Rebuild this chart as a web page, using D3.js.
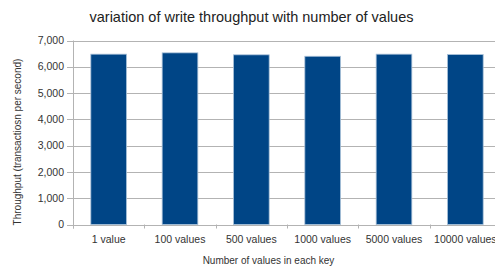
<!DOCTYPE html>
<html><head><meta charset="utf-8">
<script src="https://cdn.jsdelivr.net/npm/d3@7"></script>
<style>body{margin:0;background:#fff}svg{display:block;font-family:"Liberation Sans",Arial,sans-serif}</style>
</head><body><svg id="c" width="495" height="270"></svg>
<script>
const categories = ["1 value","100 values","500 values","1000 values","5000 values","10000 values"];
const values = [6480, 6530, 6455, 6400, 6480, 6465];
const yTicks = [0,1000,2000,3000,4000,5000,6000,7000];

const svg = d3.select("#c");
const m = {left:73, right:501, top:40.5, bottom:224.5};
const x = d3.scaleBand().domain(categories).range([m.left, m.right]).paddingInner(0.5).paddingOuter(0.25);
const xOuter = d3.scaleBand().domain(categories).range([m.left, m.right]);
const y = d3.scaleLinear().domain([0,7000]).range([m.bottom, m.top]);
const fmt = d3.format(",");

// gridlines
svg.append("g").selectAll("line").data(yTicks).join("line")
  .attr("x1", m.left-6).attr("x2", 495)
  .attr("y1", d=>Math.round(y(d))+0.5).attr("y2", d=>Math.round(y(d))+0.5)
  .attr("stroke","#b3b3b3").attr("stroke-width",1);
// y axis line
svg.append("line").attr("x1",m.left+0.5).attr("x2",m.left+0.5)
  .attr("y1",m.top).attr("y2",m.bottom+4).attr("stroke","#b3b3b3");
// x ticks
svg.append("g").selectAll("line").data(categories.concat(["__end"])).join("line")
  .attr("x1", d=> d==="__end"? m.right : Math.round(xOuter(d))+0.5)
  .attr("x2", d=> d==="__end"? m.right : Math.round(xOuter(d))+0.5)
  .attr("y1", m.bottom).attr("y2", m.bottom+4).attr("stroke","#b3b3b3");

// y tick labels
svg.append("g").selectAll("text").data(yTicks).join("text")
  .attr("x", 64).attr("y", d=>y(d)+3.7).attr("text-anchor","end")
  .attr("font-size",10.5).attr("fill","#333").text(d=>fmt(d));

// bars
svg.append("g").selectAll("rect").data(values).join("rect")
  .attr("x",(d,i)=>x(categories[i])).attr("width",x.bandwidth())
  .attr("y",d=>y(d)).attr("height",d=>y(0)-y(d))
  .attr("fill","#004586").attr("stroke","#a9c1d9").attr("stroke-width",0.8);

// x labels
svg.append("g").selectAll("text").data(categories).join("text")
  .attr("x", d=>xOuter(d)+xOuter.bandwidth()/2).attr("y", 243)
  .attr("text-anchor","middle").attr("font-size",10.5).attr("fill","#333").text(d=>d);

// titles
svg.append("text").attr("x",251.5).attr("y",22).attr("text-anchor","middle")
  .attr("font-size",14.5).attr("fill","#222").text("variation of write throughput with number of values");
svg.append("text").attr("x",268.5).attr("y",264).attr("text-anchor","middle")
  .attr("font-size",10).attr("fill","#333").text("Number of values in each key");
svg.append("text").attr("transform","translate(21,142) rotate(-90)").attr("text-anchor","middle")
  .attr("font-size",10).attr("fill","#333").text("Throughput (transactiosn per second)");
</script></body></html>
